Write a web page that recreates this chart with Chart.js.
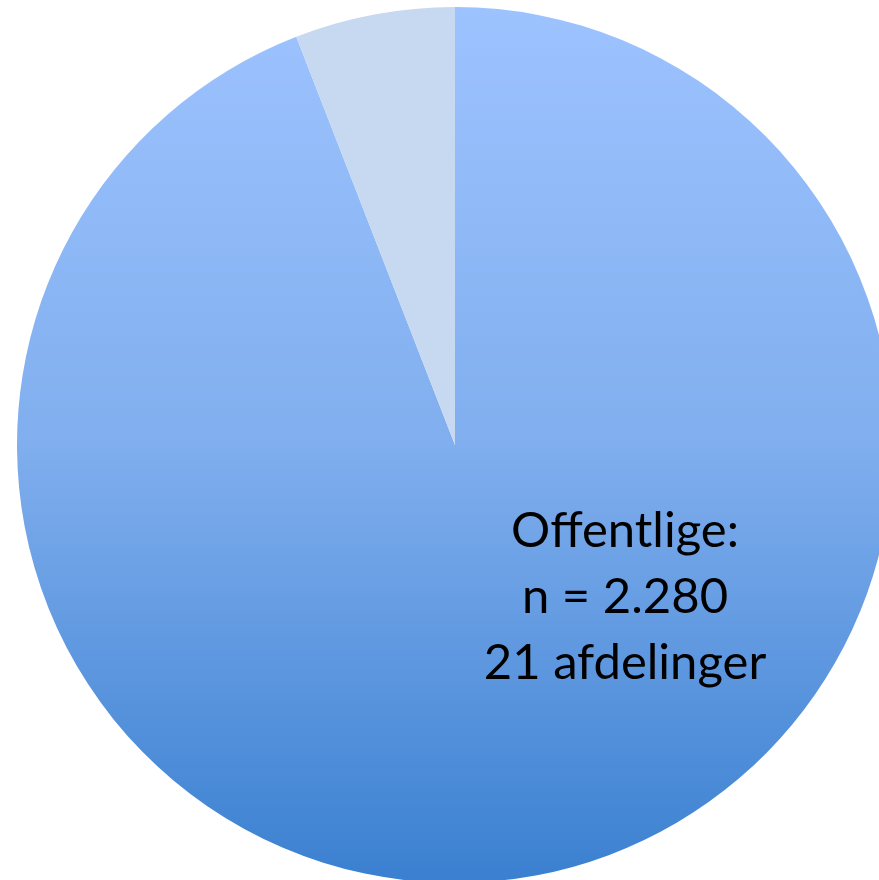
<!DOCTYPE html>
<html>
<head>
<meta charset="utf-8">
<script src="https://cdn.jsdelivr.net/npm/chart.js@4"></script>
<style>
  html, body { margin: 0; padding: 0; background: #fff; }
  #wrap { position: relative; width: 879px; height: 880px; overflow: hidden; }
  #box { position: absolute; left: 17px; top: 7px; width: 876px; height: 876px; }
</style>
</head>
<body>
<div id="wrap"><div id="box"><canvas id="pie-chart"></canvas></div></div>
<script>
// data
const categories = ['Offentlige', 'Private'];
const counts = [2280, 143];
const labelLines = ['Offentlige:', 'n = 2.280', '21 afdelinger'];

const labelPlugin = {
  id: 'sliceLabel',
  afterDraw(chart) {
    const arc = chart.getDatasetMeta(0).data[0];
    const ctx = chart.ctx;
    ctx.save();
    ctx.fillStyle = '#000';
    ctx.font = '49px Lato';
    ctx.textAlign = 'center';
    ctx.textBaseline = 'middle';
    labelLines.forEach((line, i) => {
      ctx.fillText(line, arc.x + 170, arc.y + 86 + i * 66);
    });
    ctx.restore();
  }
};

new Chart(document.getElementById('pie-chart'), {
  type: 'pie',
  data: {
    labels: categories,
    datasets: [{
      data: counts,
      backgroundColor: (c) => {
        if (c.dataIndex === 1) return '#C6D9F1';
        const area = c.chart.chartArea;
        if (!area) return '#8DB8F5';
        const g = c.chart.ctx.createLinearGradient(0, area.top, 0, area.bottom);
        g.addColorStop(0, '#9DC3FF');
        g.addColorStop(0.5, '#80AEEE');
        g.addColorStop(1, '#3A80D0');
        return g;
      },
      borderWidth: 0,
      hoverOffset: 0
    }]
  },
  options: {
    responsive: true,
    maintainAspectRatio: false,
    animation: false,
    rotation: 0,
    layout: { padding: 0 },
    plugins: {
      legend: { display: false },
      tooltip: { enabled: false }
    }
  },
  plugins: [labelPlugin]
});
</script>
</body>
</html>
